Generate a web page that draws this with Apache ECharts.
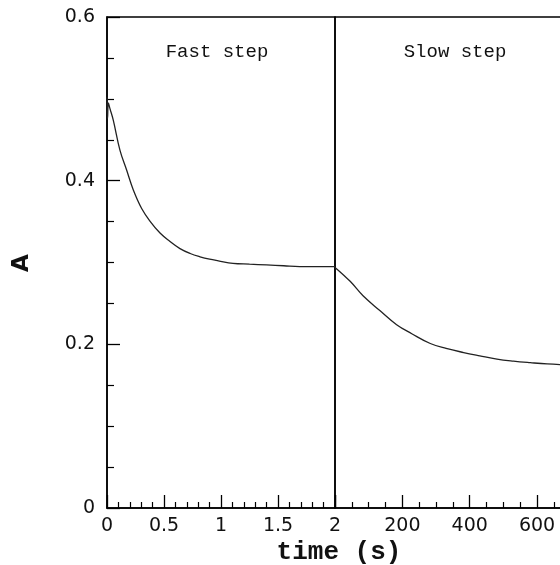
<!DOCTYPE html>
<html lang="en">
  <head>
    <meta charset="UTF-8" />
    <title>Fast step / Slow step</title>
    <script src="https://cdnjs.cloudflare.com/ajax/libs/echarts/6.0.0/echarts.min.js"></script>
    <style>
      html, body { margin: 0; padding: 0; background: #fff; }
      #chart { width: 560px; height: 565px; }
    </style>
  </head>
  <body>
    <div id="chart"></div>
    <script type="text/javascript">
      // fast step, time in s (0-2)
      const fastTime = [0, 0.005, 0.012, 0.026, 0.055, 0.114, 0.172, 0.23, 0.304, 0.38, 0.465, 0.55, 0.64, 0.73, 0.816, 0.9, 0.977, 1.105, 1.25, 1.4, 1.55, 1.69, 1.85, 2.0];
      const fastA = [0.502, 0.476, 0.495, 0.488, 0.474, 0.437, 0.413, 0.389, 0.366, 0.35, 0.336, 0.326, 0.317, 0.311, 0.307, 0.304, 0.302, 0.299, 0.298, 0.297, 0.296, 0.295, 0.295, 0.295];
      // slow step, time in s (0-689)
      const slowTime = [0, 45, 84, 134, 183, 228, 283, 330, 382, 430, 481, 530, 580, 630, 689];
      const slowA = [0.294, 0.277, 0.259, 0.241, 0.224, 0.213, 0.201, 0.195, 0.19, 0.186, 0.182, 0.1795, 0.1776, 0.176, 0.175];
      const yTicks = [0, 0.2, 0.4, 0.6];

      const chart = echarts.init(document.getElementById("chart"));

      const tickFont = { color: "#111", fontSize: 19, fontFamily: "DejaVu Sans" };
      const monoFont = "Liberation Mono";

      const xCommon = {
        type: "value",
        axisLine: { show: true, onZero: false, lineStyle: { color: "#000", width: 1.5 } },
        axisTick: { show: true, inside: true, length: 13, lineStyle: { color: "#000", width: 1.3 } },
        minorTick: { show: true, length: 6, lineStyle: { color: "#000", width: 1.2 } },
        splitLine: { show: false },
        axisLabel: Object.assign({ margin: 9 }, tickFont),
      };

      const option = {
        animation: false,
        backgroundColor: "#fff",
        grid: [
          { left: 107, top: 17, width: 228, height: 491, show: true, borderColor: "#000", borderWidth: 1.5, outerBoundsMode: "none", containLabel: false },
          { left: 335, top: 17, width: 232, height: 491, show: true, borderColor: "#000", borderWidth: 1.5, outerBoundsMode: "none", containLabel: false },
        ],
        xAxis: [
          Object.assign({}, xCommon, {
            gridIndex: 0, min: 0, max: 2, interval: 0.5,
            minorTick: Object.assign({}, xCommon.minorTick, { splitNumber: 5 }),
          }),
          Object.assign({}, xCommon, {
            gridIndex: 1, min: 0, max: 689, interval: 200,
            minorTick: Object.assign({}, xCommon.minorTick, { splitNumber: 4 }),
            axisLabel: Object.assign({}, xCommon.axisLabel, { showMinLabel: false, showMaxLabel: false }),
          }),
        ],
        yAxis: [
          {
            type: "value", gridIndex: 0, min: 0, max: 0.6, interval: 0.2,
            axisLine: { show: true, lineStyle: { color: "#000", width: 1.5 } },
            axisTick: { show: true, inside: true, length: 13, lineStyle: { color: "#000", width: 1.3 } },
            minorTick: { show: true, splitNumber: 4, length: 7, lineStyle: { color: "#000", width: 1.2 } },
            splitLine: { show: false },
            axisLabel: Object.assign({ margin: 12, customValues: yTicks }, tickFont),
          },
          {
            type: "value", gridIndex: 1, min: 0, max: 0.6,
            axisLine: { show: false }, axisTick: { show: false },
            axisLabel: { show: false }, splitLine: { show: false },
          },
        ],
        graphic: [
          { type: "text", x: 217, y: 52, style: { text: "Fast step", fontFamily: monoFont, fontSize: 19, fill: "#111", align: "center", verticalAlign: "middle" } },
          { type: "text", x: 455, y: 52, style: { text: "Slow step", fontFamily: monoFont, fontSize: 19, fill: "#111", align: "center", verticalAlign: "middle" } },
          { type: "text", x: 339, y: 552, style: { text: "time (s)", fontFamily: monoFont, fontWeight: "bold", fontSize: 26, fill: "#111", align: "center", verticalAlign: "middle" } },
          { type: "text", x: 22, y: 263, rotation: Math.PI / 2, style: { text: "A", fontFamily: "DejaVu Sans", fontWeight: "bold", fontSize: 23, fill: "#111", align: "center", verticalAlign: "middle" } },
        ],
        series: [
          {
            type: "line", xAxisIndex: 0, yAxisIndex: 0, showSymbol: false,
            smooth: 0.4,
            lineStyle: { color: "#222", width: 1.3 },
            data: fastTime.map((t, i) => [t, fastA[i]]),
          },
          {
            type: "line", xAxisIndex: 1, yAxisIndex: 1, showSymbol: false,
            smooth: 0.4,
            lineStyle: { color: "#222", width: 1.3 },
            data: slowTime.map((t, i) => [t, slowA[i]]),
          },
        ],
      };
      chart.setOption(option);
    </script>
  </body>
</html>
